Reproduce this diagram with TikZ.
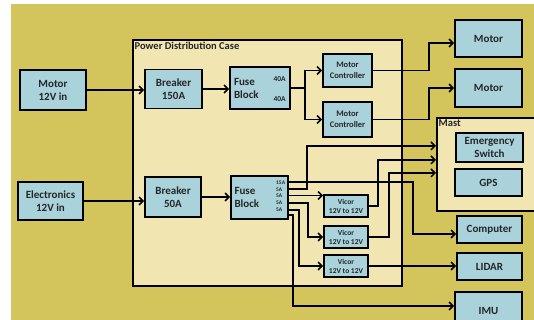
\documentclass[tikz,border=0pt]{standalone}
\usepackage{fontspec}
\setmainfont{Carlito}
\usetikzlibrary{arrows.meta}

\definecolor{olivebg}{HTML}{D3C45B}
\definecolor{casetan}{HTML}{F1E5B1}
\definecolor{boxblue}{HTML}{A9D2DB}

\begin{document}
\begin{tikzpicture}[x=1pt, y=-1pt,
    box/.style = {shape=rectangle, draw, line width=1.8pt, fill=boxblue,
      align=center, inner sep=0pt, text=black!85,
      font=\bfseries\fontsize{11}{13}\selectfont},
    casebox/.style = {shape=rectangle, draw, line width=1.8pt, fill=casetan,
      inner sep=0pt, anchor=north west},
    title/.style = {anchor=north west, inner sep=2.5pt, text=black!85,
      font=\bfseries\fontsize{10.5}{12}\selectfont},
    smalltext/.style = {font=\bfseries\fontsize{8.5}{10.5}\selectfont},
    vicortext/.style = {font=\bfseries\fontsize{7.5}{9}\selectfont},
    tinytext/.style = {inner sep=0pt, text=black!85,
      font=\bfseries\fontsize{5.5}{6.8}\selectfont},
    wire/.style = {line width=1.5pt},
    arr/.style = {line width=1.5pt, -{Straight Barb[length=4pt,width=8pt]}}]

    \clip (0,0) rectangle (534,320);
    \fill[olivebg] (11,4) rectangle (534,320);

    \node[casebox, minimum width=269pt, minimum height=246pt] (pdc) at (132,39) {};
    \node[title] (pdctitle) at (pdc.north west) {Power Distribution Case};
    \node[casebox, minimum width=110pt, minimum height=93pt] (mast) at (436,117) {};
    \node[title] (masttitle) at (mast.north west) {Mast};

    \node[box, minimum width=66pt, minimum height=40pt] (motorin) at (53,90) {Motor\\12V in};
    \node[box, minimum width=57pt, minimum height=39pt] (breakerA) at (173.5,89) {Breaker\\150A};
    \node[box, minimum width=60pt, minimum height=42pt, text width=52pt, align=left] (fuseA) at (260,88) {Fuse\\Block};
    \node[tinytext, font=\bfseries\fontsize{7.5}{8}\selectfont, anchor=east] (fuseAtop) at ([xshift=-5pt, yshift=9pt]fuseA.east) {40A};
    \node[tinytext, font=\bfseries\fontsize{7.5}{8}\selectfont, anchor=east] (fuseAbot) at ([xshift=-5pt, yshift=-11pt]fuseA.east) {40A};
    \node[box, smalltext, minimum width=49pt, minimum height=33pt] (mcA) at (347.5,70.5) {Motor\\Controller};
    \node[box, smalltext, minimum width=49pt, minimum height=35pt] (mcB) at (347.5,119.5) {Motor\\Controller};
    \node[box, minimum width=67pt, minimum height=37pt] (motorA) at (488.5,38.5) {Motor};
    \node[box, minimum width=67pt, minimum height=38pt] (motorB) at (488.5,88) {Motor};

    \node[box, minimum width=65pt, minimum height=38pt] (elecin) at (50.5,201) {Electronics\\12V in};
    \node[box, minimum width=56pt, minimum height=40pt] (breakerB) at (173,197) {Breaker\\50A};
    \node[box, minimum width=57pt, minimum height=43pt, text width=50pt, align=left] (fuseB) at (259.5,197.5) {Fuse\\Block};
    \node[tinytext, align=left, anchor=north west] (ratings) at (276,180.5) {15A\\5A\\5A\\5A\\5A};
    \node[box, vicortext, minimum width=44pt, minimum height=22pt] (vicA) at (346,206) {Vicor\\12V to 12V};
    \node[box, vicortext, minimum width=44pt, minimum height=22pt] (vicB) at (346,237) {Vicor\\12V to 12V};
    \node[box, vicortext, minimum width=44pt, minimum height=22pt] (vicC) at (346,266) {Vicor\\12V to 12V};

    \node[box, minimum width=67pt, minimum height=29pt] (estop) at (489.5,147.5) {Emergency\\Switch};
    \node[box, minimum width=67pt, minimum height=27pt] (gps) at (488.5,182.5) {GPS};
    \node[box, minimum width=65pt, minimum height=27pt] (computer) at (489.5,229.5) {Computer};
    \node[box, minimum width=65pt, minimum height=27pt] (lidar) at (489.5,266.5) {LIDAR};
    \node[box, minimum width=67pt, minimum height=38pt] (imu) at (488.5,311) {IMU};

    \coordinate (splitA) at (305,88);

    \draw[arr] (motorin.east) -- (motorin.east -| breakerA.west);
    \draw[arr] (breakerA.east) -- (breakerA.east -| fuseA.west);
    \draw[wire] (fuseA.east) -- (splitA);
    \draw[arr] (splitA) |- (mcA.west);
    \draw[arr] (splitA) |- (mcB.west);
    \draw[arr] (mcA.east) -- ++(56,0) |- ([yshift=-4.5pt]motorA.west);
    \draw[arr] (mcB.east) -- ++(56,0) |- (motorB.west);

    \draw[arr] (elecin.east) -- (elecin.east -| breakerB.west);
    \draw[arr] (breakerB.east) -- (breakerB.east -| fuseB.west);
    \draw[arr] ([yshift=15.5pt]fuseB.east) -- ++(124,0) |- ([yshift=-4.5pt]computer.west);
    \draw[arr] ([yshift=8.5pt]fuseB.east) -- ++(18,0) |- ([yshift=18.5pt]mast.west);
    \draw[arr] ([yshift=2pt]fuseB.east) -- ([yshift=2pt]fuseB.east -| vicA.west);
    \draw[arr] ([yshift=-5.5pt]fuseB.east) -- ++(19,0) |- (vicB.west);
    \draw[arr] ([yshift=-12.5pt]fuseB.east) -- ++(10,0) |- (vicC.west);
    \draw[arr] ([yshift=-17.5pt]fuseB.east) -- ++(4,0) |- ([yshift=5pt]imu.west);
    \draw[arr] (vicA.east) -- ++(9,0) |- ([yshift=4.5pt]mast.west);
    \draw[arr] (vicB.east) -- ++(20,0) |- ([yshift=-8.5pt]mast.west);
    \draw[arr] (vicC.east) -- (vicC.east -| lidar.west);
  \end{tikzpicture}
\end{document}
